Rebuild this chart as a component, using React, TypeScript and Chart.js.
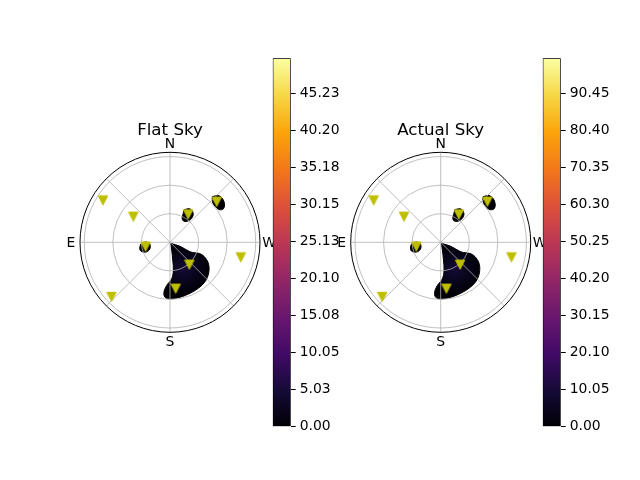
import React, { useEffect, useRef } from "react";
import Chart from "chart.js/auto";

// sky map: azimuth from N through E (E drawn on the left), zenith distance in degrees
const R_MAX = 94.5;
const RINGS = [30, 60, 90];
const SPOKES = [0, 45, 90, 135, 180, 225, 270, 315];
const CARDINALS = ["N", "E", "S", "W"];

const STAR_AZ = [58, 55, 327, 311, 100, 221, 187, 258, 133];
const STAR_ZEN = [83, 47, 35, 65, 26, 31, 49, 76, 84];

// contour outlines, x toward W, y toward N (degrees)
const MAIN_X = [0.7, 10.6, 21.2, 31.8, 37.1, 40.6, 40.6, 37.1, 30.0, 21.2, 10.6, 0, -5.3, -6.4, -3.5, 1.8, 3.5, 2.9, 1.8];
const MAIN_Y = [-1.1, -4.2, -10.0, -12.1, -16.3, -23.3, -32.2, -41.0, -48.1, -53.4, -57.7, -59.4, -57.7, -52.4, -45.3, -38.2, -29.4, -18.8, -8.2];
const SPOT_A_X = [14.8, 20.1, 23.3, 24.4, 22.3, 18.0, 13.8, 12.7, 13.8];
const SPOT_A_Y = [34.2, 35.3, 33.2, 28.9, 24.7, 22.0, 22.6, 25.8, 30.0];
const SPOT_B_X = [44.5, 50.9, 55.1, 57.2, 56.2, 51.9, 47.7, 44.5];
const SPOT_B_Y = [48.0, 49.1, 45.9, 40.6, 35.3, 34.2, 37.4, 42.7];
const SPOT_C_X = [-30.7, -25.4, -21.2, -21.2, -25.4, -30.7, -31.8];
const SPOT_C_Y = [-1.8, 0.3, -1.8, -7.1, -10.3, -9.2, -6.0];

// colorbars
const FLAT_MAX = 50;
const FLAT_TICKS = [0, 5.025, 10.05, 15.075, 20.1, 25.125, 30.15, 35.175, 40.2, 45.225];
const FLAT_LABELS = ["0.00", "5.03", "10.05", "15.08", "20.10", "25.13", "30.15", "35.18", "40.20", "45.23"];
const ACTUAL_MAX = 100;
const ACTUAL_TICKS = [0, 10.05, 20.1, 30.15, 40.2, 50.25, 60.3, 70.35, 80.4, 90.45];
const ACTUAL_LABELS = ["0.00", "10.05", "20.10", "30.15", "40.20", "50.25", "60.30", "70.35", "80.40", "90.45"];

const INFERNO = ["#000004", "#160b39", "#420a68", "#6a176e", "#932667", "#bc3754", "#dd513a", "#f37819", "#fca50a", "#f6d746", "#fcffa4"];

const FONT = "DejaVu Sans";

function toXY(az: number, zen: number) {
  const a = (az * Math.PI) / 180;
  return { x: -zen * Math.sin(a), y: zen * Math.cos(a) };
}

function outline(xs: number[], ys: number[]) {
  const pts = xs.map((x, i) => ({ x, y: ys[i] }));
  return [...pts, pts[0]];
}

const mean = (a: number[]) => a.reduce((s, v) => s + v, 0) / a.length;

// matplotlib-like "v" marker
function triangleDown(): HTMLCanvasElement {
  const c = document.createElement("canvas");
  c.width = 12;
  c.height = 12;
  const g = c.getContext("2d")!;
  g.beginPath();
  g.moveTo(1.3, 1.4);
  g.lineTo(10.7, 1.4);
  g.lineTo(6, 10.6);
  g.closePath();
  g.fillStyle = "#bfbf00";
  g.strokeStyle = "#bfbf00";
  g.lineWidth = 1;
  g.fill();
  g.stroke();
  return c;
}

const skyFrame = {
  id: "skyFrame",
  beforeDatasetDraw(chart: any, args: any) {
    if (args.meta.type !== "scatter") return;
    const { ctx, scales } = chart;
    const cx = scales.x.getPixelForValue(0);
    const cy = scales.y.getPixelForValue(0);
    const k = (scales.x.getPixelForValue(R_MAX) - cx) / R_MAX;
    ctx.save();
    ctx.strokeStyle = "#b0b0b0";
    ctx.lineWidth = 0.8;
    RINGS.forEach((r) => {
      ctx.beginPath();
      ctx.arc(cx, cy, r * k, 0, Math.PI * 2);
      ctx.stroke();
    });
    SPOKES.forEach((az) => {
      const p = toXY(az, R_MAX);
      ctx.beginPath();
      ctx.moveTo(cx, cy);
      ctx.lineTo(cx + p.x * k, cy - p.y * k);
      ctx.stroke();
    });
    ctx.strokeStyle = "#000";
    ctx.lineWidth = 1;
    ctx.beginPath();
    ctx.arc(cx, cy, R_MAX * k, 0, Math.PI * 2);
    ctx.stroke();
    ctx.restore();
  },
  afterDraw(chart: any, _args: any, opts: any) {
    const { ctx, scales } = chart;
    const cx = scales.x.getPixelForValue(0);
    const cy = scales.y.getPixelForValue(0);
    ctx.save();
    ctx.fillStyle = "#000";
    ctx.textAlign = "center";
    ctx.textBaseline = "alphabetic";
    ctx.font = `13.9px "${FONT}"`;
    CARDINALS.forEach((t, i) => {
      const p = toXY(i * 90, 99);
      ctx.fillText(t, cx + p.x, cy - p.y + 5);
    });
    ctx.font = `16.67px "${FONT}"`;
    ctx.fillText(opts.title, cx, cy - 107);
    ctx.restore();
  },
};

function SkyPanel({ left, centerX, title }: { left: number; centerX: number; title: string }) {
  const ref = useRef<HTMLCanvasElement | null>(null);

  useEffect(() => {
    if (!ref.current) return;
    const marker = triangleDown();
    const stars = STAR_AZ.map((az, i) => toXY(az, STAR_ZEN[i]));
    const glowX = mean(MAIN_X);
    const glowY = mean(MAIN_Y) + 4;

    const mainFill = (c: any) => {
      const chart = c.chart;
      if (!chart.chartArea) return "#000004";
      const gx = chart.scales.x.getPixelForValue(glowX);
      const gy = chart.scales.y.getPixelForValue(glowY);
      const g = chart.ctx.createRadialGradient(gx, gy, 0, gx, gy, 26);
      g.addColorStop(0, "#150b36");
      g.addColorStop(0.5, "#08051c");
      g.addColorStop(1, "#000004");
      return g;
    };

    const blob = (xs: number[], ys: number[], fill: any) => ({
      type: "line" as const,
      data: outline(xs, ys),
      fill: "shape",
      backgroundColor: fill,
      borderColor: "#000004",
      borderWidth: 1,
      pointRadius: 0,
      tension: 0.35,
      order: 2,
    });

    const padLeft = centerX - 90 - left;
    const chart = new Chart(ref.current, {
      type: "scatter",
      data: {
        datasets: [
          {
            data: stars,
            pointStyle: marker,
            pointRadius: 5,
            order: 1,
          },
          blob(MAIN_X, MAIN_Y, mainFill),
          blob(SPOT_A_X, SPOT_A_Y, "#000004"),
          blob(SPOT_B_X, SPOT_B_Y, "#000004"),
          blob(SPOT_C_X, SPOT_C_Y, "#000004"),
        ] as any,
      },
      options: {
        animation: false,
        responsive: false,
        devicePixelRatio: 1,
        layout: { padding: { left: padLeft, right: 260 - 180 - padLeft, top: 52.3, bottom: 47.7 } },
        scales: {
          x: { type: "linear", display: false, min: -R_MAX, max: R_MAX },
          y: { type: "linear", display: false, min: -R_MAX, max: R_MAX },
        },
        plugins: {
          legend: { display: false },
          tooltip: { enabled: false },
          skyFrame: { title },
        } as any,
      },
      plugins: [skyFrame],
    });

    return () => chart.destroy();
  }, [left, centerX, title]);

  return (
    <canvas
      ref={ref}
      width={260}
      height={280}
      style={{ position: "absolute", left, top: 100, width: 260, height: 280 }}
    />
  );
}

function ColorBar({ left, max, ticks, labels }: { left: number; max: number; ticks: number[]; labels: string[] }) {
  const ref = useRef<HTMLCanvasElement | null>(null);

  useEffect(() => {
    if (!ref.current) return;
    const infernoFill = (c: any) => {
      const area = c.chart.chartArea;
      if (!area) return INFERNO[0];
      const g = c.chart.ctx.createLinearGradient(0, area.bottom, 0, area.top);
      INFERNO.forEach((col, i) => g.addColorStop(i / (INFERNO.length - 1), col));
      return g;
    };

    const chart = new Chart(ref.current, {
      type: "bar",
      data: {
        labels: [""],
        datasets: [
          {
            data: [[0, max]] as any,
            backgroundColor: infernoFill,
            borderColor: "#000",
            borderWidth: 1,
            borderSkipped: false,
            barPercentage: 1,
            categoryPercentage: 1,
          },
        ],
      },
      options: {
        animation: false,
        responsive: false,
        devicePixelRatio: 1,
        layout: { padding: { left: 10.7, right: 0, top: 10.3, bottom: 11.3 } },
        plugins: { legend: { display: false }, tooltip: { enabled: false } },
        scales: {
          x: { display: false },
          y: {
            position: "right",
            min: 0,
            max,
            afterBuildTicks: (s: any) => {
              s.ticks = ticks.map((v) => ({ value: v }));
            },
            afterFit: (s: any) => {
              s.width = 51.3;
              s.paddingTop = 0;
              s.paddingBottom = 0;
            },
            grid: { drawOnChartArea: false, drawTicks: true, tickLength: 5, color: "#000", lineWidth: 1 },
            border: { display: false },
            ticks: {
              padding: 4,
              color: "#000",
              font: { family: FONT, size: 13.9 },
              callback: (_v: any, i: number) => labels[i],
            },
          },
        },
      },
    });

    return () => chart.destroy();
  }, [left, max, ticks, labels]);

  return (
    <canvas
      ref={ref}
      width={80}
      height={390}
      style={{ position: "absolute", left, top: 48, width: 80, height: 390 }}
    />
  );
}

export default function App(): JSX.Element {
  return (
    <div style={{ position: "fixed", left: 0, top: 0, width: 640, height: 480, background: "#fff" }}>
      <SkyPanel left={40} centerX={170} title="Flat Sky" />
      <ColorBar left={262} max={FLAT_MAX} ticks={FLAT_TICKS} labels={FLAT_LABELS} />
      <SkyPanel left={311} centerX={440.7} title="Actual Sky" />
      <ColorBar left={532} max={ACTUAL_MAX} ticks={ACTUAL_TICKS} labels={ACTUAL_LABELS} />
    </div>
  );
}
